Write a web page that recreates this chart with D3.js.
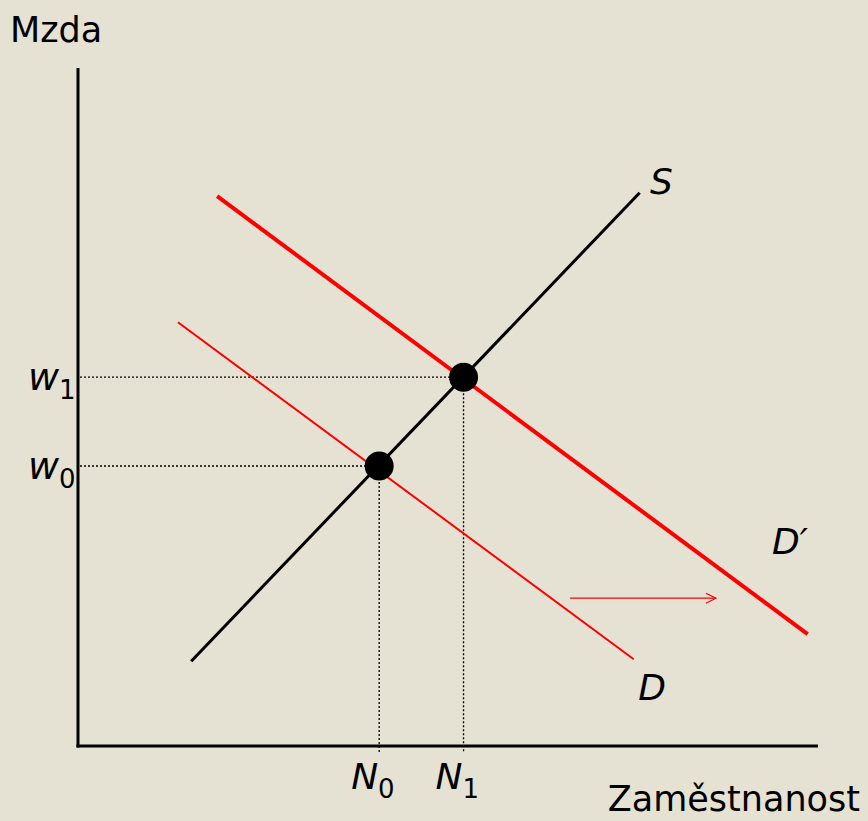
<!DOCTYPE html>
<html>
<head>
<meta charset="utf-8">
<script src="https://cdn.jsdelivr.net/npm/d3@7"></script>
<style>
  body { margin: 0; background: #e5e2d3; }
  svg { display: block; }
  text { font-family: "DejaVu Sans", Verdana, sans-serif; fill: #000; }
</style>
</head>
<body>
<div id="graf"></div>
<script>
// krivky (zamestnanost N, mzda w) v abstraktnich jednotkach
const supplyS = [[15.3, 12.5], [75.9, 81.6]];
const demandD = [[13.5, 62.5], [75.1, 12.8]];
const demandD2 = [[18.8, 81.1], [98.6, 16.5]];
const equilibria = [
  { n: 40.7, w: 41.3, nLabel: "N", wLabel: "w", sub: "0" },
  { n: 52.1, w: 54.4, nLabel: "N", wLabel: "w", sub: "1" }
];
const shiftArrow = [[66.5, 21.8], [86.2, 21.8]];
const curveLabels = [
  { text: "S", at: [77.3, 81.4] },
  { text: "D\u2032", at: [93.8, 28.3] },
  { text: "D", at: [75.7, 6.8] }
];

const width = 868, height = 821;
const bg = "#e5e2d3";

const x = d3.scaleLinear().domain([0, 100]).range([78, 818]);
const y = d3.scaleLinear().domain([0, 100]).range([746, 68]);

const svg = d3.select("#graf").append("svg")
    .attr("width", width)
    .attr("height", height);

svg.append("rect").attr("width", width).attr("height", height).attr("fill", bg);

svg.append("defs").append("marker")
    .attr("id", "arr")
    .attr("viewBox", "0 0 12 12")
    .attr("refX", 11).attr("refY", 6)
    .attr("markerWidth", 12).attr("markerHeight", 12)
    .attr("markerUnits", "userSpaceOnUse")
    .attr("orient", "auto")
  .append("path")
    .attr("d", "M1,1 L11,6 L1,11")
    .attr("fill", "none")
    .attr("stroke", "#ff0000")
    .attr("stroke-width", 1.2);

// pomocne teckovane cary
const guides = svg.append("g")
    .attr("stroke", "#000")
    .attr("stroke-width", 1.3)
    .attr("stroke-dasharray", "2,2");
equilibria.forEach(e => {
  guides.append("line")
      .attr("x1", x(0) + 2).attr("x2", x(e.n))
      .attr("y1", y(e.w)).attr("y2", y(e.w));
  guides.append("line")
      .attr("x1", x(e.n)).attr("x2", x(e.n))
      .attr("y1", y(e.w)).attr("y2", y(0) + 7);
});

// osy
svg.append("line")
    .attr("x1", x(0)).attr("x2", x(0))
    .attr("y1", y(100)).attr("y2", y(0) + 1.5)
    .attr("stroke", "#000").attr("stroke-width", 3);
svg.append("line")
    .attr("x1", x(0) - 1.5).attr("x2", x(100))
    .attr("y1", y(0)).attr("y2", y(0))
    .attr("stroke", "#000").attr("stroke-width", 3);

const line = d3.line().x(d => x(d[0])).y(d => y(d[1]));

svg.append("path").attr("d", line(demandD))
    .attr("fill", "none").attr("stroke", "#ff0000").attr("stroke-width", 2);
svg.append("path").attr("d", line(demandD2))
    .attr("fill", "none").attr("stroke", "#ff0000").attr("stroke-width", 4);
svg.append("path").attr("d", line(supplyS))
    .attr("fill", "none").attr("stroke", "#000").attr("stroke-width", 3);

svg.append("path").attr("d", line(shiftArrow))
    .attr("fill", "none").attr("stroke", "#ff0000").attr("stroke-width", 1.3)
    .attr("marker-end", "url(#arr)");

svg.selectAll("circle.eq")
  .data(equilibria)
  .join("circle")
    .attr("class", "eq")
    .attr("cx", d => x(d.n))
    .attr("cy", d => y(d.w))
    .attr("r", 14.5)
    .attr("fill", "#000");

// popisky
svg.append("text").attr("x", 10).attr("y", 42)
    .attr("font-size", 35).text("Mzda");
svg.append("text").attr("x", 860).attr("y", 811)
    .attr("text-anchor", "end")
    .attr("font-size", 35).text("Zaměstnanost");

equilibria.forEach(e => {
  const tw = svg.append("text")
      .attr("x", 28).attr("y", y(e.w) + 13)
      .attr("font-size", 38);
  tw.append("tspan").attr("font-style", "italic").text(e.wLabel);
  tw.append("tspan").attr("font-size", 26).attr("dy", 9).text(e.sub);

  const tn = svg.append("text")
      .attr("x", x(e.n) - 28).attr("y", y(0) + 43)
      .attr("font-size", 36);
  tn.append("tspan").attr("font-style", "italic").text(e.nLabel);
  tn.append("tspan").attr("font-size", 26).attr("dy", 9).text(e.sub);
});

svg.selectAll("text.curve")
  .data(curveLabels)
  .join("text")
    .attr("class", "curve")
    .attr("x", d => x(d.at[0]))
    .attr("y", d => y(d.at[1]))
    .attr("font-size", 36)
    .attr("font-style", "italic")
    .text(d => d.text);
</script>
</body>
</html>
